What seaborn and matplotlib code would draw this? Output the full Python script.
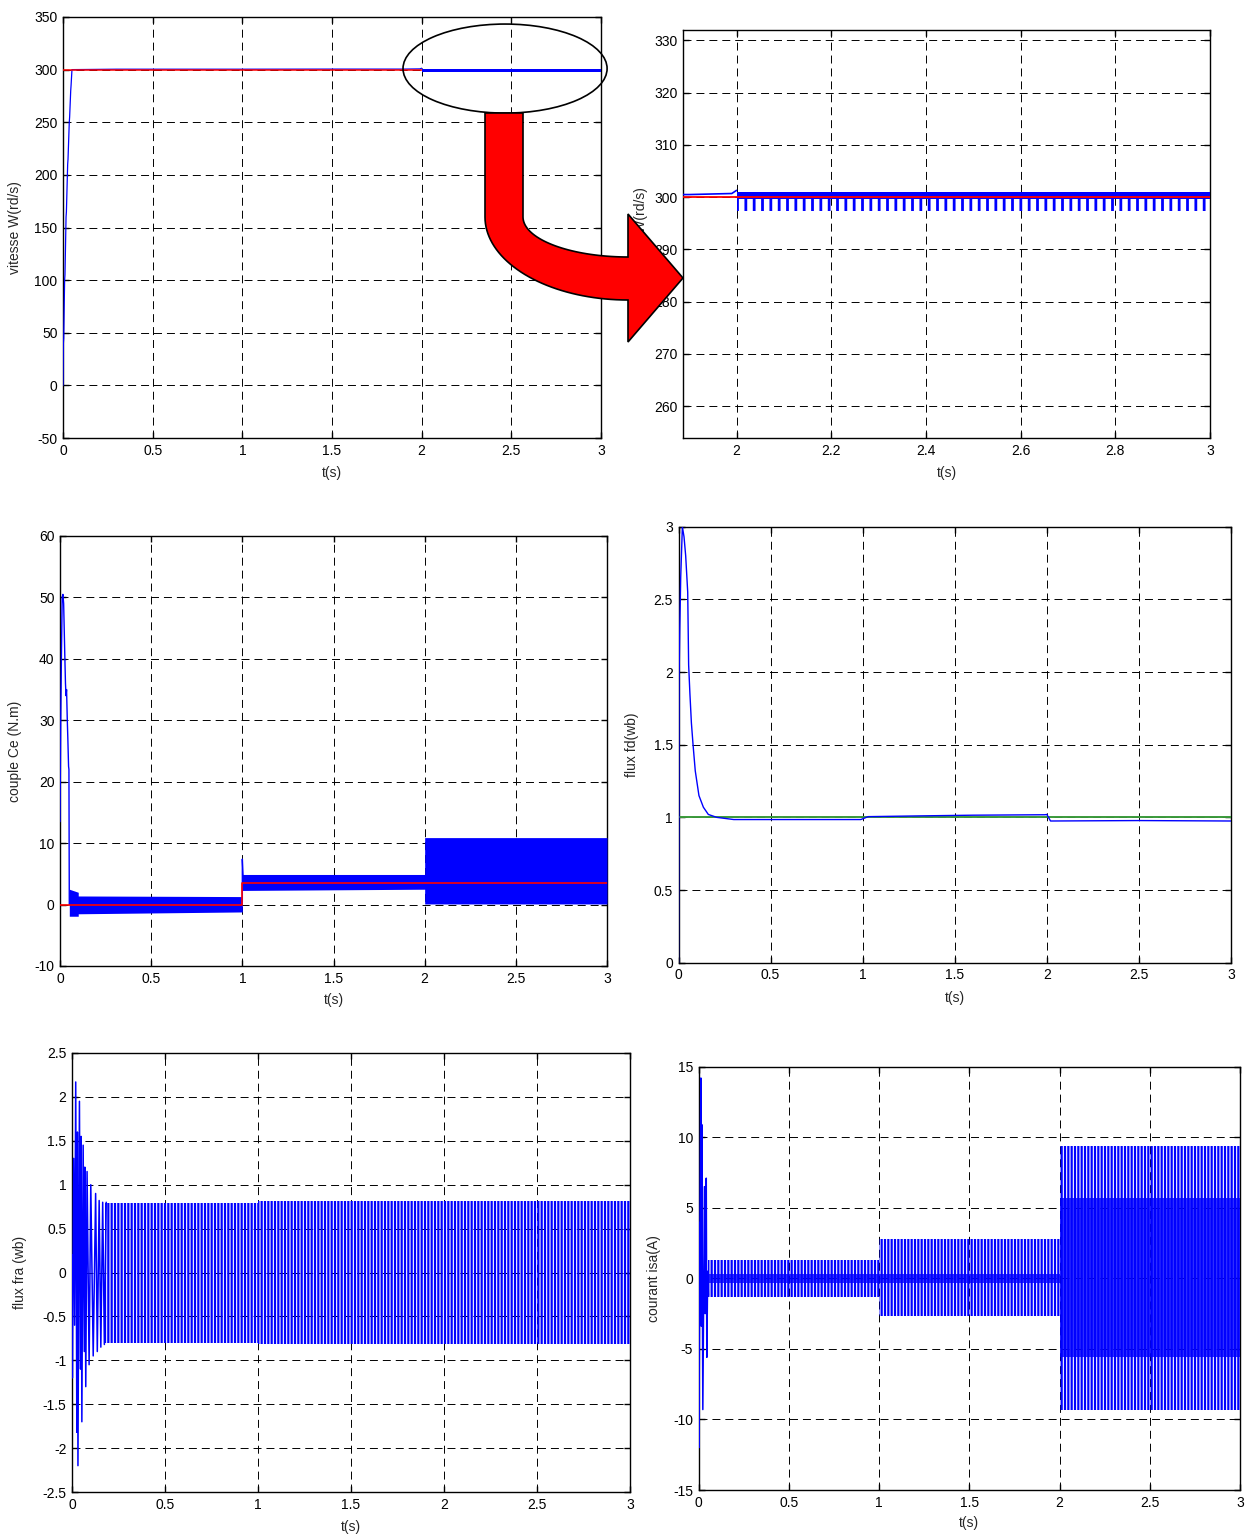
import numpy as np
import matplotlib
matplotlib.use("Agg")
import matplotlib.pyplot as plt
import seaborn as sns
from matplotlib.patches import Ellipse, PathPatch
from matplotlib.path import Path
from matplotlib.ticker import FuncFormatter

# ---------------- data ----------------
# speed (vitesse W, rd/s)
speed_t = [0, 0.002, 0.004, 0.009, 0.011, 0.017, 0.019, 0.026, 0.028, 0.035, 0.037,
           0.043, 0.045, 0.05, 0.3, 1.0, 1.5, 1.9, 1.99, 2.0]
speed_w = [0, 40, 45, 100, 105, 160, 165, 210, 215, 250, 255,
           280, 285, 300, 300.4, 300.4, 300.5, 300.5, 300.7, 301.3]
speed_ref_t = [0, 3]
speed_ref_w = [300, 300]
speed_band_t = [2.0, 3.0]
speed_band_lo = [297.3, 297.3]
speed_band_hi = [300.9, 300.9]
speed_core_lo = [299.6, 299.6]

# electromagnetic torque (couple Ce, N.m)
ce_t = [0, 0.004, 0.008, 0.012, 0.016, 0.02, 0.023, 0.026, 0.03, 0.033, 0.036,
        0.04, 0.043, 0.047, 0.049, 0.051]
ce_v = [13.5, 30, 41, 50, 50.5, 49, 45, 41, 36, 34, 35, 30, 27, 22.5, 22, 0]
ce_band_t = [0.051, 0.1, 0.1, 1.0, 1.0, 2.0, 2.0, 3.0]
ce_band_lo = [-1.9, -1.9, -1.5, -1.2, 2.3, 2.5, 0.1, 0.1]
ce_band_hi = [2.5, 2.0, 1.4, 1.3, 4.9, 4.9, 10.9, 10.9]
ce_spike_t = [1.0, 1.0, 1.004]
ce_spike_v = [0.5, 7.4, 4.6]
ce_ref_t = [0, 1, 1, 3]
ce_ref_v = [0, 0, 3.5, 3.5]

# direct flux (flux fd, wb)
fd_t = [0, 0.002, 0.003, 0.007, 0.012, 0.021, 0.03, 0.039, 0.05, 0.055, 0.062,
        0.07, 0.079, 0.091, 0.111, 0.135, 0.162, 0.208, 0.3, 0.6, 0.99, 1.03,
        1.3, 1.6, 1.99, 2.0, 2.02, 2.5, 3.0]
fd_v = [0, 0.95, 1.95, 2.3, 2.65, 3.0, 2.93, 2.8, 2.55, 2.05, 1.85,
        1.65, 1.5, 1.32, 1.15, 1.07, 1.02, 1.0, 0.985, 0.985, 0.985, 1.005,
        1.01, 1.015, 1.018, 1.02, 0.975, 0.978, 0.975]
fd_ref_t = [0, 3]
fd_ref_v = [1, 1]

# rotor flux alpha (flux fra, wb)
fra_t = [0, 0.002, 0.009, 0.014, 0.02, 0.026, 0.029, 0.032, 0.04, 0.046, 0.049,
         0.053, 0.06, 0.066, 0.069, 0.074, 0.081, 0.092, 0.101, 0.114, 0.127,
         0.136, 0.146, 0.155, 0.165, 0.174, 0.184]
fra_v = [0.2, -1.2, 1.3, -0.6, 2.17, -1.82, 1.6, -2.2, 1.95, -1.1, 1.55,
         -1.7, 1.45, -0.9, 1.2, -1.3, 1.15, -1.05, 1.0, -0.95, 0.9,
         -0.9, 0.82, -0.85, 0.8, -0.82, 0.8]
fra_band_t = [0.18, 1.0, 1.0, 3.0]
fra_band_lo = [-0.8, -0.8, -0.82, -0.82]
fra_band_hi = [0.79, 0.79, 0.82, 0.82]

# stator current (courant isa, A)
isa_t = [0, 0.002, 0.008, 0.013, 0.016, 0.018, 0.024, 0.033, 0.037, 0.040,
         0.043, 0.046, 0.051, 0.055]
isa_v = [4, -12, 3.5, 14.2, -3.4, 10.9, -9.3, 6.5, -2.5, 2, 7.1, -5.6, 0.5, -1.2]
isa_band_t = [0.055, 1.0, 1.0, 2.0, 2.0, 3.0]
isa_band_lo = [-1.3, -1.3, -2.7, -2.7, -9.3, -9.3]
isa_band_hi = [1.3, 1.3, 2.8, 2.8, 9.4, 9.4]
isa_core_t = [0.055, 1.0, 1.0, 2.0, 2.0, 3.0]
isa_core_lo = [-0.3, -0.3, -0.3, -0.3, -5.6, -5.6]
isa_core_hi = [0.3, 0.3, 0.3, 0.3, 5.7, 5.7]

t_ticks = [0, 0.5, 1, 1.5, 2, 2.5, 3]

# ---------------- style ----------------
sns.set_style("ticks")
plt.rcParams['font.family'] = ['Liberation Sans', 'DejaVu Sans']
plt.rcParams['axes.edgecolor'] = 'black'

W, H = 1246, 1537
fig = plt.figure(figsize=(W / 100, H / 100), dpi=100)
fig.patch.set_facecolor('white')

BLUE = '#0000FF'
RED = '#FF0000'
GREEN = '#3A9A3A'


def add_axes_px(box):
    left, top, right, bottom = box
    return fig.add_axes([left / W, 1 - bottom / H, (right - left) / W, (bottom - top) / H])


def style(ax, box, xlim, ylim, xticks, yticks, ylabel, ylab_x, xlab_y):
    left, top, right, bottom = box
    ax.set_xlim(xlim)
    ax.set_ylim(ylim)
    ax.set_xticks(xticks)
    ax.set_yticks(yticks)
    fmt = FuncFormatter(lambda v, p: f"{v:g}")
    ax.xaxis.set_major_formatter(fmt)
    ax.yaxis.set_major_formatter(fmt)
    ax.tick_params(direction='in', length=4, width=1, top=True, right=True,
                   labelsize=10, colors='black', pad=4)
    ax.grid(True, color='black', linestyle=(0, (8.2, 5.1)), linewidth=0.7)
    ax.set_axisbelow(True)
    for s in ax.spines.values():
        s.set_visible(True)
        s.set_color('black')
        s.set_linewidth(1.0)
    ax.set_facecolor('white')
    ax.set_xlabel('t(s)', fontsize=10)
    ax.set_ylabel(ylabel, fontsize=10)
    ax.xaxis.set_label_coords(0.5, (bottom - xlab_y) / (bottom - top))
    ax.xaxis.label.set_va('center')
    ax.yaxis.set_label_coords((ylab_x - left) / (right - left), 0.5)
    ax.yaxis.label.set_va('center')


def line(ax, x, y, color, lw, z=3):
    sns.lineplot(x=x, y=y, ax=ax, color=color, linewidth=lw, estimator=None,
                 sort=False, zorder=z)


def hatched(ax, x, lo, hi, pattern, hlw, z=3):
    with plt.rc_context({'hatch.linewidth': hlw}):
        coll = ax.fill_between(x, lo, hi, facecolor='none', edgecolor=BLUE,
                               hatch=pattern, lw=0, zorder=z)
        if hasattr(coll, 'set_hatch_linewidth'):
            coll.set_hatch_linewidth(hlw)
    return coll


# ---------------- panel 1 : speed ----------------
b1 = (63, 17, 601, 438)
ax1 = add_axes_px(b1)
line(ax1, speed_t, speed_w, BLUE, 0.9)
line(ax1, speed_ref_t, speed_ref_w, RED, 1.1, z=4)
ax1.fill_between(speed_band_t, speed_band_lo, speed_band_hi, color=BLUE, lw=0, zorder=5)
style(ax1, b1, (0, 3), (-50, 350), t_ticks, list(range(-50, 351, 50)),
      'vitesse W(rd/s)', 15, 473)
ax1.add_patch(Ellipse((2.465, 301), 1.138, 84.6, transform=ax1.transData,
                      facecolor='none', edgecolor='black', lw=1.2,
                      clip_on=False, zorder=6))

# ---------------- panel 2 : speed zoom ----------------
b2 = (683, 30, 1210, 438)
ax2 = add_axes_px(b2)
line(ax2, speed_t, speed_w, BLUE, 1.2)
ax2.fill_between(speed_band_t, speed_core_lo, speed_band_hi, color=BLUE, lw=0, zorder=3)
hatched(ax2, speed_band_t, speed_band_lo, speed_band_hi, '||', 2.0)
line(ax2, speed_ref_t, speed_ref_w, RED, 1.3, z=4)
style(ax2, b2, (1.887, 3.0), (253.9, 332.0), [2, 2.2, 2.4, 2.6, 2.8, 3],
      list(range(260, 331, 10)), 'vitesse W(rd/s)', 641, 473)

# ---------------- panel 3 : torque ----------------
b3 = (60, 536, 607, 966)
ax3 = add_axes_px(b3)
ax3.fill_between(ce_band_t, ce_band_lo, ce_band_hi, color=BLUE, lw=0, zorder=3)
line(ax3, ce_t, ce_v, BLUE, 1.0)
line(ax3, ce_spike_t, ce_spike_v, BLUE, 1.0)
line(ax3, ce_ref_t, ce_ref_v, RED, 1.2, z=4)
style(ax3, b3, (0, 3), (-10, 60), t_ticks, list(range(-10, 61, 10)),
      'couple Ce (N.m)', 15, 1000)

# ---------------- panel 4 : flux fd ----------------
b4 = (678.5, 526.7, 1231, 962.7)
ax4 = add_axes_px(b4)
line(ax4, fd_ref_t, fd_ref_v, GREEN, 1.4)
line(ax4, fd_t, fd_v, BLUE, 1.0, z=4)
style(ax4, b4, (0, 3), (0, 3), t_ticks, [0, 0.5, 1, 1.5, 2, 2.5, 3],
      'flux fd(wb)', 632, 998)

# ---------------- panel 5 : flux fra ----------------
b5 = (72, 1053, 630, 1492)
ax5 = add_axes_px(b5)
line(ax5, fra_t, fra_v, BLUE, 1.1)
hatched(ax5, fra_band_t, fra_band_lo, fra_band_hi, '|||||', 1.6)
style(ax5, b5, (0, 3), (-2.5, 2.5), t_ticks, [-2.5, -2, -1.5, -1, -0.5, 0, 0.5, 1, 1.5, 2, 2.5],
      'flux fra (wb)', 20, 1527)

# ---------------- panel 6 : current isa ----------------
b6 = (698.5, 1066.7, 1240, 1490)
ax6 = add_axes_px(b6)
line(ax6, isa_t, isa_v, BLUE, 1.1)
hatched(ax6, isa_band_t, isa_band_lo, isa_band_hi, '|||||', 1.6)
ax6.fill_between(isa_core_t, isa_core_lo, isa_core_hi, color=BLUE, alpha=0.8,
                 lw=0, zorder=3)
style(ax6, b6, (0, 3), (-15, 15), t_ticks, list(range(-15, 16, 5)),
      'courant isa(A)', 654, 1523)

# ---------------- curved red arrow (annotation) ----------------
def fp(x, y):
    return (x / W, 1 - y / H)

pts = [fp(485, 113), fp(485, 217)]
for th in np.linspace(np.pi, np.pi / 2, 40)[1:]:
    pts.append(fp(628 + 143 * np.cos(th), 217 + 83 * np.sin(th)))
pts += [fp(628, 342), fp(683, 278), fp(628, 214), fp(628, 257)]
for th in np.linspace(np.pi / 2, np.pi, 40)[1:]:
    pts.append(fp(628 + 105 * np.cos(th), 217 + 40 * np.sin(th)))
pts += [fp(523, 113), fp(485, 113)]
codes = [Path.MOVETO] + [Path.LINETO] * (len(pts) - 2) + [Path.CLOSEPOLY]
arrow = PathPatch(Path(pts, codes), transform=fig.transFigure,
                  facecolor=RED, edgecolor='black', lw=1.2, zorder=10)
fig.add_artist(arrow)

fig.savefig('out.png', dpi=100, facecolor='white')
